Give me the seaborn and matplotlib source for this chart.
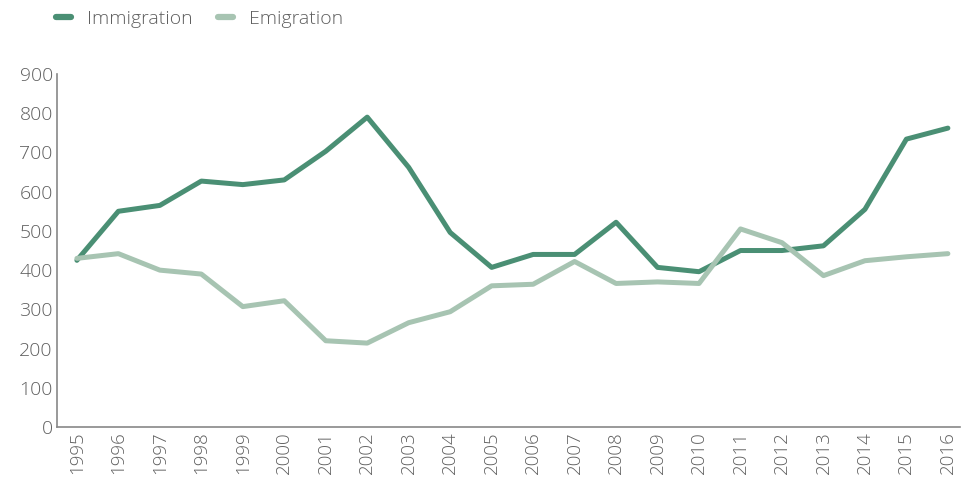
import pandas as pd
import matplotlib
matplotlib.use('Agg')
import matplotlib.pyplot as plt
import seaborn as sns

# data
years = list(range(1995, 2017))
immigration = [425, 550, 565, 627, 618, 630, 703, 790, 662, 496, 407, 440,
               440, 522, 407, 396, 450, 450, 462, 555, 734, 762]
emigration = [430, 442, 400, 390, 307, 322, 220, 214, 266, 294, 360, 364,
              422, 366, 370, 366, 505, 470, 386, 424, 434, 442]

df = pd.DataFrame({'year': years * 2,
                   'value': immigration + emigration,
                   'serie': ['Immigration'] * len(years) + ['Emigration'] * len(years)})

sns.set_style('white')
plt.rcParams['font.family'] = ['Open Sans', 'DejaVu Sans']
plt.rcParams['font.weight'] = 'light'
grey = '#5f5f5f'

fig = plt.figure(figsize=(9.61, 4.82), dpi=100)
ax = fig.add_axes([0.0593, 0.114, 0.94, 0.7325])

sns.lineplot(data=df, x='year', y='value', hue='serie',
             palette={'Immigration': '#4a8f74', 'Emigration': '#a7c4b2'},
             linewidth=3.6, ax=ax, solid_capstyle='round')

ax.set_xlim(1994.52, 2016.3)
ax.set_ylim(0, 900)
ax.set_xticks(years)
ax.set_xticklabels([str(y) for y in years], rotation=90, fontsize=13.5, color=grey)
ax.set_yticks(range(0, 901, 100))
ax.set_yticklabels([str(v) for v in range(0, 901, 100)], fontsize=14, color=grey)
ax.tick_params(length=0, pad=3)
ax.set_xlabel('')
ax.set_ylabel('')
sns.despine(ax=ax)
for s in ['left', 'bottom']:
    ax.spines[s].set_color('#888888')
    ax.spines[s].set_linewidth(1.2)

leg = ax.legend(loc='upper left', bbox_to_anchor=(-0.021, 1.23), ncol=2, frameon=False,
                fontsize=14, handlelength=0.8, handletextpad=0.8, columnspacing=1.3)
for t in leg.get_texts():
    t.set_color(grey)
for h in leg.get_lines():
    h.set_solid_capstyle('round')
    h.set_linewidth(4.5)

fig.savefig('out.png', dpi=100)
